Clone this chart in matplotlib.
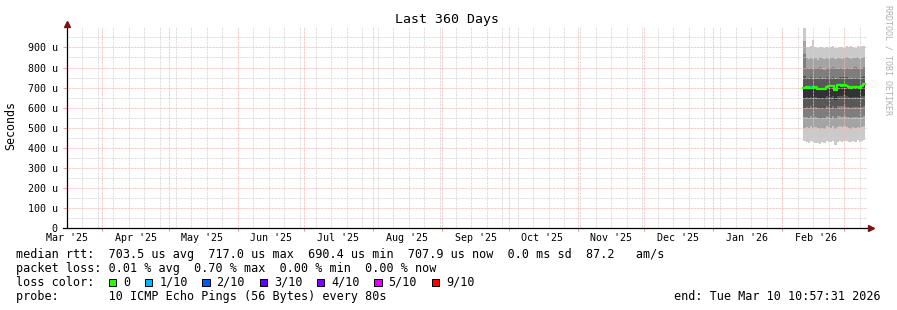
import datetime as dt

import matplotlib
matplotlib.use("Agg")
import matplotlib.pyplot as plt
import matplotlib.dates as mdates
from matplotlib.patches import Rectangle

W, H = 897, 310
MONO = "DejaVu Sans Mono"

# --- data ---------------------------------------------------------------
end_time = dt.datetime(2026, 3, 10, 10, 57, 31)
first_sample = dt.datetime(2026, 2, 10, 12, 0)

# microseconds, one value per day
median = [700, 702, 698, 703, 699, 701, 694, 692, 695, 693, 705, 707, 706, 708,
          690.4, 711, 712, 710, 713, 709, 702, 700, 703, 701, 702, 700, 709, 717]
ping10 = [995, 904, 902, 906, 935, 900, 898, 903, 900, 896, 902, 899, 901, 905,
          898, 895, 900, 903, 899, 906, 901, 908, 903, 899, 905, 902, 906, 909]
ping9 = [930, 846, 842, 849, 843, 845, 839, 850, 845, 841, 848, 843, 846, 851,
         842, 845, 848, 840, 845, 850, 846, 842, 848, 845, 850, 844, 849, 852]
ping8 = [865, 800, 795, 799, 792, 800, 796, 802, 795, 790, 798, 800, 796, 803,
         797, 795, 800, 798, 795, 800, 797, 793, 799, 802, 798, 800, 797, 803]
ping7 = [756, 749, 745, 751, 742, 748, 745, 752, 745, 743, 751, 749, 746, 753,
         744, 750, 755, 752, 754, 751, 747, 745, 750, 748, 749, 747, 752, 758]
ping6 = [703, 705, 701, 706, 702, 704, 697, 695, 698, 696, 708, 710, 709, 711,
         694, 714, 715, 713, 716, 712, 705, 703, 706, 704, 705, 703, 712, 720]
ping5 = [650, 652, 648, 655, 645, 652, 646, 644, 647, 645, 656, 655, 652, 657,
         640, 658, 660, 657, 661, 656, 651, 648, 653, 651, 652, 650, 656, 660]
ping4 = [600, 603, 598, 606, 596, 603, 597, 594, 598, 596, 606, 604, 600, 607,
         592, 607, 610, 606, 609, 605, 601, 597, 603, 601, 602, 600, 605, 609]
ping3 = [552, 555, 550, 557, 548, 555, 549, 546, 550, 548, 557, 555, 551, 558,
         545, 557, 560, 556, 559, 556, 552, 548, 554, 552, 553, 551, 556, 559]
ping2 = [500, 505, 498, 508, 495, 505, 498, 494, 499, 496, 507, 504, 500, 508,
         492, 506, 510, 505, 508, 506, 501, 496, 503, 501, 502, 500, 505, 509]
ping1 = [432, 428, 425, 435, 430, 426, 423, 420, 427, 425, 432, 430, 428, 433,
         415, 430, 434, 428, 432, 436, 430, 427, 433, 431, 437, 430, 436, 440]
loss_pct = [0, 0, 0, 0.70, 0, 0, 0, 0, 0, 0, 0, 0, 0, 0,
            0, 0, 0, 0, 0, 0, 0, 0, 0, 0, 0, 0, 0, 0]

loss_labels = ["0", "1/10", "2/10", "3/10", "4/10", "5/10", "9/10"]
loss_levels = [0, 1, 2, 3, 4, 5, 9]
loss_colors = ["#26ff00", "#00b8ff", "#0059ff", "#5e00ff", "#7e00ff", "#dd00ff", "#ff0000"]
smoke_colors = ["#cacaca", "#a4a4a4", "#7e7e7e", "#585858", "#323232"]

month_labels = ["Mar '25", "Apr '25", "May '25", "Jun '25", "Jul '25", "Aug '25",
                "Sep '25", "Oct '25", "Nov '25", "Dec '25", "Jan '26", "Feb '26"]
y_major = [0, 100, 200, 300, 400, 500, 600, 700, 800, 900]

legend_lines = [
    "median rtt:  703.5 us avg  717.0 us max  690.4 us min  707.9 us now  0.0 ms sd  87.2   am/s",
    "packet loss: 0.01 % avg  0.70 % max  0.00 % min  0.00 % now",
    "loss color:",
    "probe:       10 ICMP Echo Pings (56 Bytes) every 80s",
]
end_text = "end: Tue Mar 10 10:57:31 2026"


def px(x):
    return x / W


def py(y):
    return 1 - y / H


def main():
    fig = plt.figure(figsize=(W / 100, H / 100), dpi=100)
    ax = fig.add_axes([px(67), py(228.3), 800 / W, 201 / H])

    times = [first_sample + dt.timedelta(days=i) for i in range(len(median))] + [end_time]

    def ext(v):
        return list(v) + [v[-1]]

    # smoke bands, outer first
    pings = [ping1, ping2, ping3, ping4, ping5, ping6, ping7, ping8, ping9, ping10]
    for i, col in enumerate(smoke_colors):
        ax.fill_between(times, ext(pings[i]), ext(pings[9 - i]), step="post",
                        color=col, linewidth=0, zorder=1)

    # median line coloured by loss
    ax.step(times, ext(median), where="post", color=loss_colors[0], lw=1.6, zorder=4)
    for i, lp in enumerate(loss_pct):
        if lp == 0:
            continue
        lost = lp / 10.0
        k = next(j for j, lv in enumerate(loss_levels) if lv >= lost and lv > 0)
        ax.plot([times[i], times[i + 1]], [median[i], median[i]],
                color=loss_colors[k], lw=1.6, zorder=5, solid_capstyle="butt")

    x_end = end_time + dt.timedelta(hours=17)
    ax.set_xlim(x_end - dt.timedelta(days=360), x_end)
    ax.set_ylim(0, 1000)

    for s in ax.spines.values():
        s.set_visible(False)

    ax.xaxis.set_major_locator(mdates.MonthLocator(bymonthday=1))
    ax.xaxis.set_minor_locator(mdates.WeekdayLocator(byweekday=mdates.SU))
    ax.set_yticks(y_major)
    ax.set_yticks(list(range(50, 1000, 100)), minor=True)

    dots = (0, (0.72, 0.72))
    ax.grid(which="major", color="#f6b4b4", linestyle=dots, linewidth=0.72)
    ax.grid(which="minor", color="#d2d2d2", linestyle=dots, linewidth=0.72)
    ax.set_axisbelow(False)

    ax.tick_params(axis="x", which="major", length=2.2, width=0.72, color="#f09090",
                   labelbottom=False)
    ax.tick_params(axis="x", which="minor", length=0)
    ax.tick_params(axis="y", which="major", length=3, width=0.72, color="#f4a4a4",
                   pad=3.6, labelsize=7.2)
    ax.tick_params(axis="y", which="minor", length=0)
    ax.set_yticklabels([f"{v} u" if v else "0" for v in y_major], fontfamily=MONO)

    # month labels centred mid month
    for i, lbl in enumerate(month_labels):
        year = 2025 + (i + 2) // 12
        month = (i + 2) % 12 + 1
        ax.text(dt.datetime(year, month, 16), -10 / 201, lbl, transform=ax.get_xaxis_transform(),
                ha="center", va="center", fontsize=7.2, fontfamily=MONO)

    # axes with arrows
    ax.plot([0, 0], [0, 1.012], transform=ax.transAxes, color="black", lw=0.9,
            clip_on=False, zorder=6)
    ax.plot([-4.5 / 800, 1.004], [0, 0], transform=ax.transAxes, color="black", lw=0.9,
            clip_on=False, zorder=6)
    ax.plot([0], [1 + 3.3 / 201], marker="^", markersize=4, color="#7a1414",
            transform=ax.transAxes, clip_on=False, zorder=7)
    ax.plot([1 + 4 / 800], [0], marker=">", markersize=4, color="#7a1414",
            transform=ax.transAxes, clip_on=False, zorder=7)

    fig.text(px(447), py(19), "Last 360 Days", ha="center", va="center",
             fontsize=9.5, fontfamily=MONO)
    fig.text(px(11), py(125.5), "Seconds", rotation=90, ha="center", va="center",
             fontsize=8.4, fontfamily=MONO)
    fig.text(px(887.5), py(60), "RRDTOOL / TOBI OETIKER", rotation=270, ha="center",
             va="center", fontsize=6, fontfamily=MONO, color="#b0b0b0")

    rows = [254.3, 268.3, 282.3, 296.3]
    for y, line in zip(rows, legend_lines):
        fig.text(px(16), py(y), line, ha="left", va="center", fontsize=8.5, fontfamily=MONO)
    fig.text(px(880.5), py(rows[3]), end_text, ha="right", va="center",
             fontsize=8.5, fontfamily=MONO)

    char_w = 7.02
    x = 108.7
    for lbl, col in zip(loss_labels, loss_colors):
        fig.add_artist(Rectangle((px(x), py(286)), 7.3 / W, 7.3 / H, transform=fig.transFigure,
                                 facecolor=col, edgecolor="black", linewidth=0.72))
        fig.text(px(x + 14.2), py(rows[2]), lbl, ha="left", va="center",
                 fontsize=8.5, fontfamily=MONO)
        x += 14.2 + (len(lbl) + 2) * char_w + 1

    fig.savefig("out.png", dpi=100)


if __name__ == "__main__":
    main()
